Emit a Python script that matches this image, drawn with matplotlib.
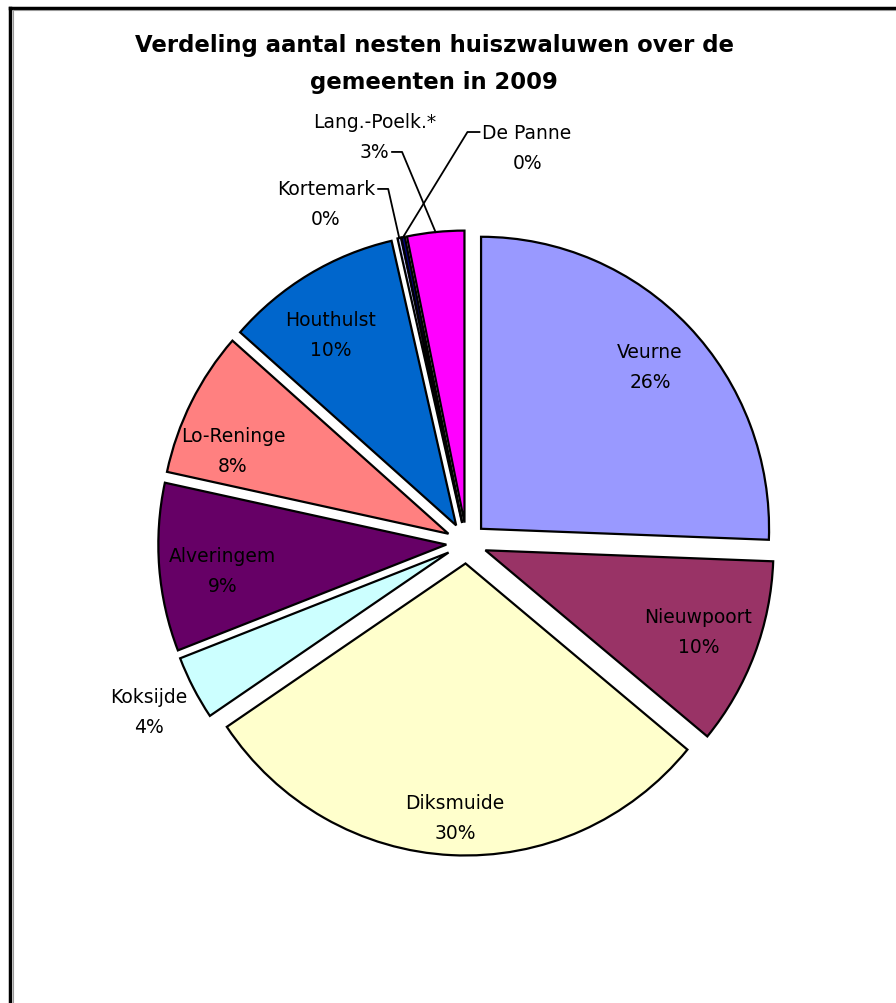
import matplotlib
matplotlib.use("Agg")
import matplotlib.pyplot as plt
import numpy as np
from matplotlib.lines import Line2D

# ---- data ----
gemeenten = ["Veurne", "Nieuwpoort", "Diksmuide", "Koksijde", "Alveringem",
             "Lo-Reninge", "Houthulst", "Kortemark", "De Panne", "Lang.-Poelk.*"]
aandeel = [25.6, 10.4, 29.55, 3.55, 9.3, 8.1, 9.9, 0.2, 0.2, 3.2]
kleuren = ["#9999FF", "#993366", "#FFFFCC", "#CCFFFF", "#660066",
           "#FF8080", "#0066CC", "#CCCCFF", "#000080", "#FF00FF"]
titel = "Verdeling aantal nesten huiszwaluwen over de\ngemeenten in 2009"

# ---- layout / style ----
W, H = 896, 1004
SX = 288 / 292          # slight horizontal squeeze of the pie (as in the original)
cx_px, cy_px = 466.5, 544
R = 292
EXPL = 20.5
# label positions: (angle in degrees, distance in px from pie centre)
label_polar = [(43.8, 254.3), (-20.9, 248.3), (-92.4, 275.2), (207.9, 359.2),
               (186.4, 245.5), (158.3, 251.3), (123.0, 249.1), (112.5, 367.0),
               (81.3, 400.6), (102.8, 416.4)]
# leader lines: index -> (which text line: 0 name / 1 pct, side)
leaders = {7: (0, "right"), 8: (0, "left"), 9: (1, "right")}

plt.rcParams['font.family'] = ['DejaVu Sans']
fig = plt.figure(figsize=(W / 100, H / 100), dpi=100)
ax = fig.add_axes([0, 0, 1, 1])

cx, cy = cx_px / SX, H - cy_px
wedges, _ = ax.pie(aandeel, colors=kleuren, startangle=90, counterclock=False,
                   center=(cx, cy), radius=R, explode=[EXPL] * len(aandeel),
                   wedgeprops=dict(edgecolor="black", linewidth=1.6),
                   frame=True)
ax.set_xlim(0, W / SX)
ax.set_ylim(0, H)
ax.set_aspect("auto")
ax.axis("off")

total = sum(aandeel)
texts = []
for i, (name, v) in enumerate(zip(gemeenten, aandeel)):
    ang, dist = label_polar[i]
    xp = cx_px + dist * np.cos(np.radians(ang))
    yp = cy_px - dist * np.sin(np.radians(ang))
    x, y = xp / SX, H - yp
    pct = f"{int(round(v / total * 100))}%"
    t1 = ax.text(x, y + 15, name, ha="center", va="center", fontsize=13.5, color="black")
    t2 = ax.text(x, y - 15, pct, ha="center", va="center", fontsize=13.5, color="black")
    texts.append((t1, t2))

fig.canvas.draw()
renderer = fig.canvas.get_renderer()
inv = ax.transData.inverted()
for i, (line_idx, side) in leaders.items():
    t = texts[i][line_idx]
    bb = t.get_window_extent(renderer)
    (x0, y0), (x1, y1) = inv.transform([[bb.x0, bb.y0], [bb.x1, bb.y1]])
    ym = (y0 + y1) / 2
    w = wedges[i]
    mid = np.radians((w.theta1 + w.theta2) / 2)
    wx, wy = w.center
    ex, ey = wx + w.r * np.cos(mid), wy + w.r * np.sin(mid)
    if side == "right":
        sx = x1 + 3 / SX
        kx = sx + 10 / SX
    else:
        sx = x0 - 3 / SX
        kx = sx - 12 / SX
    ax.add_line(Line2D([sx, kx, ex], [ym, ym, ey], color="black", lw=1.3))

fig.text(434 / W, 1 - 64 / H, titel, ha="center", va="center", fontsize=16.4,
         fontweight="bold", linespacing=1.75)

# frame (top and left borders)
fig.add_artist(Line2D([10 / W, 1.0], [1 - 9 / H, 1 - 9 / H], color="black", lw=2.5,
                      transform=fig.transFigure))
fig.add_artist(Line2D([10 / W, 10 / W], [0, 1 - 9 / H], color="black", lw=2.5,
                      transform=fig.transFigure))
fig.add_artist(Line2D([12.5 / W, 1.0], [1 - 11 / H, 1 - 11 / H], color="#999999", lw=0.8,
                      transform=fig.transFigure))
fig.add_artist(Line2D([12.5 / W, 12.5 / W], [0, 1 - 11 / H], color="#999999", lw=0.8,
                      transform=fig.transFigure))

fig.savefig("out.png", dpi=100)
